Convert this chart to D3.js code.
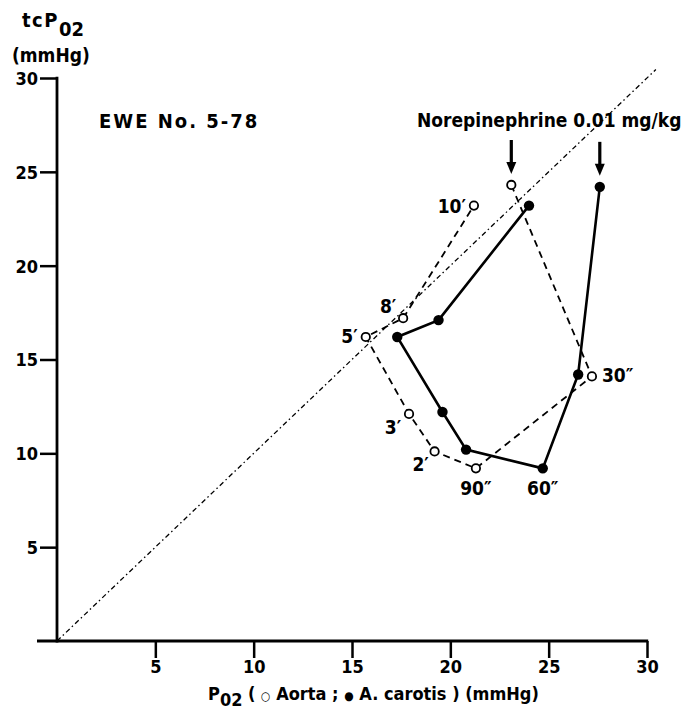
<!DOCTYPE html>
<html>
<head>
<meta charset="utf-8">
<script src="https://cdn.jsdelivr.net/npm/d3@7"></script>
<style>
  body { margin: 0; background: #fff; }
  svg { display: block; }
  text { font-family: "Liberation Sans Narrow", "DejaVu Sans Condensed", "Arial Narrow", sans-serif; font-weight: bold; fill: #000; }
</style>
</head>
<body>
<script>
// Aorta (open circles, dashed) and A. carotis (filled, solid), P02 vs tcP02
const aortaX = [23.1, 27.2, 21.3, 19.2, 17.9, 15.7, 17.6, 21.2];
const aortaY = [24.3, 14.1, 9.2, 10.1, 12.1, 16.2, 17.2, 23.2];
const carotisX = [27.6, 26.5, 24.7, 20.8, 19.6, 17.3, 19.4, 24.0];
const carotisY = [24.2, 14.2, 9.2, 10.2, 12.2, 16.2, 17.1, 23.2];
const timeLabels = [
  {series: "aorta", i: 1, text: "30\u2033", dx: 10, dy: 6, anchor: "start"},
  {series: "aorta", i: 2, text: "90\u2033", dx: 0, dy: 27, anchor: "middle"},
  {series: "carotis", i: 2, text: "60\u2033", dx: 0, dy: 27, anchor: "middle"},
  {series: "aorta", i: 3, text: "2\u2032", dx: -14, dy: 20, anchor: "middle"},
  {series: "aorta", i: 4, text: "3\u2032", dx: -16, dy: 20, anchor: "middle"},
  {series: "aorta", i: 5, text: "5\u2032", dx: -8, dy: 6, anchor: "end"},
  {series: "aorta", i: 6, text: "8\u2032", dx: -15, dy: -5, anchor: "middle"},
  {series: "aorta", i: 7, text: "10\u2032", dx: -8, dy: 7, anchor: "end"}
];
const xTicks = [5, 10, 15, 20, 25, 30];
const yTicks = [5, 10, 15, 20, 25, 30];

const width = 693, height = 710;
const svg = d3.select("body").append("svg").attr("width", width).attr("height", height);

const x = d3.scaleLinear().domain([0, 30]).range([57, 647]);
const y = d3.scaleLinear().domain([0, 30]).range([641, 78]);

// identity line
svg.append("line")
  .attr("x1", x(0)).attr("y1", y(0))
  .attr("x2", x(30.45)).attr("y2", y(30.45))
  .attr("stroke", "#000").attr("stroke-width", 1.3)
  .attr("stroke-dasharray", "5,3,1.5,3");

// axes
const yAxis = svg.append("g").attr("transform", `translate(${x(0)},0)`)
  .call(d3.axisLeft(y).tickValues(yTicks).tickSize(17).tickPadding(2).tickSizeOuter(0));
const xAxis = svg.append("g").attr("transform", `translate(0,${y(0)})`)
  .call(d3.axisBottom(x).tickValues(xTicks).tickSize(17).tickPadding(1).tickSizeOuter(0));
[xAxis, yAxis].forEach(a => {
  a.select(".domain").remove();
  a.selectAll(".tick line").attr("stroke", "#000").attr("stroke-width", 2.5);
  a.selectAll(".tick text").style("font-size", "18px").attr("fill", "#000");
  a.attr("font-family", null).attr("font-size", null);
});
yAxis.selectAll(".tick text").attr("dy", "0.36em");
xAxis.selectAll(".tick text").attr("dy", "0.75em");
svg.append("line").attr("x1", x(0)).attr("x2", x(0)).attr("y1", y(30) - 1.2).attr("y2", y(0) + 1.5)
  .attr("stroke", "#000").attr("stroke-width", 2.8);
svg.append("line").attr("x1", 37).attr("x2", x(30) + 1.2).attr("y1", y(0)).attr("y2", y(0))
  .attr("stroke", "#000").attr("stroke-width", 2.8);

// series
const aorta = aortaX.map((v, i) => [v, aortaY[i]]);
const carotis = carotisX.map((v, i) => [v, carotisY[i]]);
const line = d3.line().x(d => x(d[0])).y(d => y(d[1]));

svg.append("path").datum(aorta).attr("d", line)
  .attr("fill", "none").attr("stroke", "#000").attr("stroke-width", 1.8)
  .attr("stroke-dasharray", "7,5");
svg.append("path").datum(carotis).attr("d", line)
  .attr("fill", "none").attr("stroke", "#000").attr("stroke-width", 2.6);

svg.selectAll("circle.aorta").data(aorta).join("circle").attr("class", "aorta")
  .attr("cx", d => x(d[0])).attr("cy", d => y(d[1])).attr("r", 4.2)
  .attr("fill", "#fff").attr("stroke", "#000").attr("stroke-width", 1.8);
svg.selectAll("circle.carotis").data(carotis).join("circle").attr("class", "carotis")
  .attr("cx", d => x(d[0])).attr("cy", d => y(d[1])).attr("r", 5.2)
  .attr("fill", "#000");

// time labels
timeLabels.forEach(l => {
  const p = (l.series === "aorta" ? aorta : carotis)[l.i];
  svg.append("text").attr("x", x(p[0]) + l.dx).attr("y", y(p[1]) + l.dy)
    .attr("text-anchor", l.anchor).style("font-size", "19px").text(l.text);
});

// injection arrows
[aorta[0], carotis[0]].forEach(p => {
  const ax = x(p[0]), ay = y(p[1]) - 11;
  svg.append("line").attr("x1", ax).attr("x2", ax).attr("y1", ay - 34).attr("y2", ay - 8)
    .attr("stroke", "#000").attr("stroke-width", 3.2);
  svg.append("path").attr("d", `M${ax - 5},${ay - 12}L${ax + 5},${ay - 12}L${ax},${ay}Z`).attr("fill", "#000");
});

// annotations
svg.append("text").attr("x", 99).attr("y", 128).style("font-size", "20px")
  .style("letter-spacing", "2px").text("EWE  No. 5-78");
svg.append("text").attr("x", 417).attr("y", 127).style("font-size", "19px")
  .text("Norepinephrine 0.01 mg/kg");

// y title
const yt = svg.append("text").attr("x", 22).attr("y", 27).style("font-size", "20px");
yt.append("tspan").style("letter-spacing", "1.5px").text("tcP");
yt.append("tspan").attr("dy", 9).text("02");
svg.append("text").attr("x", 12).attr("y", 62).style("font-size", "19px").text("(mmHg)");

// x title
const xt = svg.append("text").attr("x", 208).attr("y", 700).style("font-size", "18px");
xt.append("tspan").text("P");
xt.append("tspan").attr("dy", 6).text("02");
xt.append("tspan").attr("dy", -6).text(" ( ");
xt.append("tspan").style("font-size", "12px").text("\u25CB");
xt.append("tspan").text(" Aorta ; ");
xt.append("tspan").style("font-size", "12px").text("\u25CF");
xt.append("tspan").text(" A. carotis ) (mmHg)");
</script>
</body>
</html>
